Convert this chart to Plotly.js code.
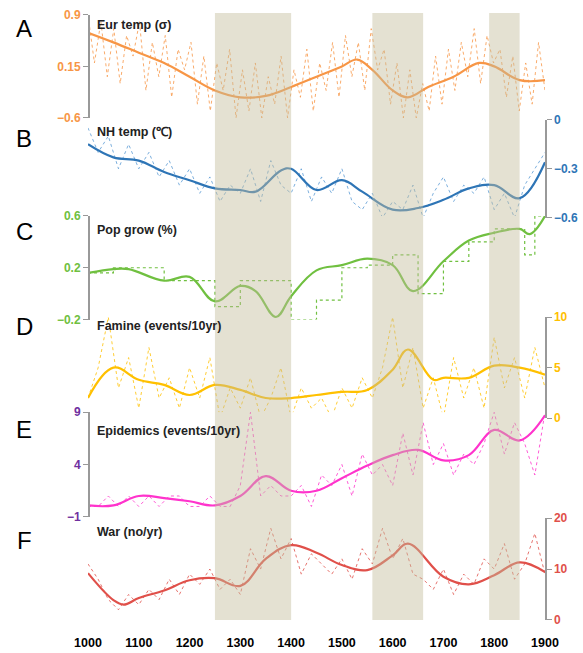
<!DOCTYPE html>
<html>
<head>
<meta charset="utf-8">
<script src="https://cdn.plot.ly/plotly-3.0.1.min.js"></script>
<style>body{margin:0;background:#fff}</style>
</head>
<body>
<div id="chart" style="width:583px;height:653px"></div>
<script>
// smoothed series (years + values)
const yrsA = [1000,1050,1100,1150,1200,1250,1300,1350,1400,1450,1500,1530,1560,1600,1630,1670,1720,1770,1800,1850,1900];
const eurSmooth = [0.64,0.5,0.35,0.2,0.0,-0.2,-0.3,-0.28,-0.15,0.0,0.15,0.25,0.1,-0.2,-0.3,-0.15,0.0,0.2,0.15,-0.05,-0.05];
const yrsB = [1000,1050,1100,1150,1200,1250,1300,1330,1380,1400,1450,1500,1540,1600,1650,1700,1750,1800,1850,1900];
const nhSmooth = [-0.15,-0.23,-0.25,-0.32,-0.37,-0.42,-0.43,-0.44,-0.31,-0.3,-0.43,-0.37,-0.44,-0.55,-0.54,-0.49,-0.42,-0.4,-0.48,-0.26];
const yrsC = [1000,1050,1080,1150,1200,1250,1300,1330,1370,1400,1450,1500,1550,1600,1640,1700,1750,1800,1850,1870,1900];
const popSmooth = [0.16,0.19,0.19,0.1,0.13,-0.06,0.06,0.02,-0.18,-0.02,0.18,0.22,0.27,0.22,0.02,0.25,0.41,0.47,0.5,0.46,0.6];
const yrsStep = [1000,1050,1100,1150,1200,1250,1300,1350,1400,1450,1500,1550,1600,1650,1700,1750,1800,1860,1880,1900];
const popSteps = [0.16,0.2,0.2,0.1,0.1,-0.1,0.1,0.1,-0.2,-0.05,0.2,0.22,0.3,0.0,0.25,0.4,0.5,0.3,0.6,0.6];
const yrs50 = [1000,1050,1100,1150,1200,1250,1300,1350,1400,1450,1500,1550,1600,1650,1700,1750,1800,1850,1900];
const yrsD = [1000,1050,1100,1150,1200,1250,1300,1350,1400,1450,1500,1550,1600,1630,1680,1700,1750,1800,1850,1900];
const famSmooth = [2,5,3.8,3.3,2.3,3.3,2.8,2,2,2.3,2.6,2.8,4.8,6.8,3.8,4,4,5.2,5,4.3];
const epiSmooth = [0.1,0.1,1,0.8,0.5,0.1,1,2.9,1.5,1.5,2.7,3.9,4.9,5.4,4.4,4.9,7.3,6.3,8.7];
const yrsF = [1000,1050,1070,1100,1150,1200,1250,1300,1350,1400,1450,1500,1550,1600,1630,1700,1750,1800,1850,1900];
const warSmooth = [9.2,3.9,3,4.3,5.8,7.8,8.2,6.7,12,14.7,13.2,10.8,9.8,12.7,15,8.5,7,8.8,11.3,9.4];

// raw series, evenly spaced over 1000-1900
const eurRaw = [0.9,0.2,0.8,0.0,0.7,-0.1,0.6,0.3,0.8,-0.2,0.5,0.0,0.6,-0.3,0.4,0.1,0.5,-0.4,0.3,-0.5,0.2,-0.2,0.4,-0.6,0.1,-0.5,0.2,-0.6,0.0,-0.4,0.3,-0.6,0.1,-0.3,0.4,-0.5,0.2,-0.2,0.5,-0.3,0.6,0.0,0.5,-0.2,0.7,0.1,0.4,-0.4,0.2,-0.6,0.1,-0.6,-0.1,-0.5,0.3,-0.4,0.4,-0.2,0.5,0.0,0.7,-0.1,0.6,0.2,0.4,-0.3,0.3,-0.5,0.2,-0.4,0.5,-0.2];
const nhRaw = [-0.05,-0.2,-0.1,-0.3,-0.15,-0.3,-0.2,-0.35,-0.25,-0.4,-0.3,-0.45,-0.35,-0.5,-0.4,-0.45,-0.3,-0.5,-0.25,-0.4,-0.45,-0.3,-0.5,-0.35,-0.45,-0.3,-0.5,-0.55,-0.45,-0.6,-0.5,-0.55,-0.4,-0.6,-0.45,-0.35,-0.5,-0.4,-0.45,-0.35,-0.55,-0.45,-0.6,-0.4,-0.3,-0.2];
const famRaw = [2,5,10,3,6,1,7,2,4,1,5,2,6,0,3,1,4,0,2,5,0,3,1,2,0,3,1,4,2,5,10,3,7,1,4,0,6,2,5,1,8,3,6,2,7,3];
const epiRaw = [0,0,1,0,1,0,1,0,1,1,0,0,1,0,0,2,9,1,2,1,1,2,0,3,2,4,1,5,3,4,2,7,3,8,4,6,3,5,4,6,9,5,8,6,3,9];
const warRaw = [11,8,4,2,5,3,6,4,8,5,9,7,10,6,8,5,14,10,18,12,16,9,13,11,9,12,8,14,11,18,12,16,9,8,6,10,5,9,7,12,10,15,8,11,17,9];

const rawYears = arr => arr.map((_, i) => 1000 + i * 900 / (arr.length - 1));

const cols = {A:'#f79646', B:'#2e75b6', Braw:'#5b9bd5', C:'#70c040', D:'#ffc000', E:'#ff33cc', F:'#e0504a'};
const font = 'Liberation Sans, Arial';

function raw(y, ax, col) {
  return {x: rawYears(y), y: y, yaxis: ax, mode: 'lines', type: 'scatter',
    line: {color: col, width: 1, dash: 'dot'}, opacity: 0.8, hoverinfo: 'skip'};
}
function smooth(x, y, ax, col) {
  return {x: x, y: y, yaxis: ax, mode: 'lines', type: 'scatter', line: {color: col, width: 2.2, shape: 'spline', smoothing: 1.1}};
}

const data = [
  raw(eurRaw, 'y', cols.A), smooth(yrsA, eurSmooth, 'y', cols.A),
  raw(nhRaw, 'y2', cols.Braw), smooth(yrsB, nhSmooth, 'y2', cols.B),
  {x: yrsStep, y: popSteps, yaxis: 'y3', mode: 'lines', line: {color: cols.C, width: 1.2, dash: 'dot', shape: 'hv'}},
  smooth(yrsC, popSmooth, 'y3', cols.C),
  raw(famRaw, 'y4', cols.D), smooth(yrsD, famSmooth, 'y4', cols.D),
  raw(epiRaw, 'y5', cols.E), smooth(yrs50, epiSmooth, 'y5', cols.E),
  raw(warRaw, 'y6', cols.F), smooth(yrsF, warSmooth, 'y6', cols.F)
];

function yax(dom, range, vals, side, col) {
  return {domain: dom, range: range, tickvals: vals, side: side, anchor: 'free',
    position: side === 'right' ? 1 : 0, showgrid: false, zeroline: false,
    showline: true, linecolor: '#999', linewidth: 1.5, ticks: 'outside', ticklen: 5, tickcolor: '#999',
    tickfont: {family: font, size: 12, color: col, weight: 'bold'}};
}

const bands = [[1250,1400],[1560,1660],[1790,1850]];
const shapes = bands.map(b => ({type: 'rect', xref: 'x', yref: 'paper', x0: b[0], x1: b[1], y0: 0.005, y1: 0.995,
  fillcolor: '#c4bd9b', opacity: 0.45, line: {width: 0}, layer: 'above'}));

const letters = ['A','B','C','D','E','F'];
const letterY = [0.995, 0.816, 0.638, 0.483, 0.291, 0.109];
const titles = ['Eur temp (σ)', 'NH temp (℃)', 'Pop grow (%)', 'Famine (events/10yr)', 'Epidemics (events/10yr)', 'War (no/yr)'];
const titleY = [0.99, 0.816, 0.656, 0.5, 0.328, 0.163];
const annotations = [];
letters.forEach((l, i) => annotations.push({text: l, xref: 'paper', yref: 'paper', x: -0.14, y: letterY[i],
  xanchor: 'center', showarrow: false, font: {family: font, size: 24, color: '#000'}}));
titles.forEach((t, i) => annotations.push({text: '<b>' + t + '</b>', xref: 'paper', yref: 'paper', x: 0.015, y: titleY[i],
  xanchor: 'left', yanchor: 'top', showarrow: false, font: {family: font, size: 12.5, color: '#222'}}));

const layout = {
  width: 583, height: 653, margin: {l: 88, r: 38, t: 10, b: 30},
  paper_bgcolor: '#fff', plot_bgcolor: '#fff', showlegend: false,
  xaxis: {range: [1000, 1900], tickvals: [1000,1100,1200,1300,1400,1500,1600,1700,1800,1900], showgrid: false,
    zeroline: false, showline: false, ticks: '', anchor: 'free', position: 0, ticklabelstandoff: 10,
    tickfont: {family: font, size: 12.5, color: '#000', weight: 'bold'}},
  yaxis: yax([0.824, 0.992], [-0.6, 0.9], [-0.6, 0.15, 0.9], 'left', cols.A),
  yaxis2: yax([0.661, 0.821], [-0.6, 0], [-0.6, -0.3, 0], 'right', cols.B),
  yaxis3: yax([0.495, 0.664], [-0.2, 0.6], [-0.2, 0.2, 0.6], 'left', cols.C),
  yaxis4: yax([0.334, 0.499], [0, 10], [0, 5, 10], 'right', cols.D),
  yaxis5: yax([0.173, 0.344], [-1, 9], [-1, 4, 9], 'left', '#7030a0'),
  yaxis6: yax([0.005, 0.171], [0, 20], [0, 10, 20], 'right', cols.F),
  shapes: shapes, annotations: annotations
};

Plotly.newPlot('chart', data, layout, {displayModeBar: false, staticPlot: true});
</script>
</body>
</html>
